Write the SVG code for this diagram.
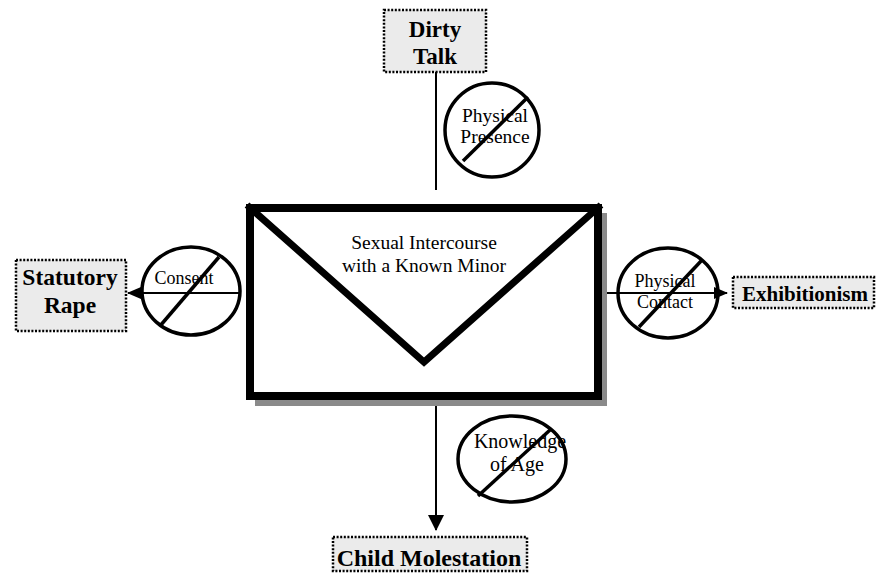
<svg xmlns="http://www.w3.org/2000/svg" width="876" height="573" viewBox="0 0 876 573">
<style>
  text { fill: #000; text-anchor: middle; }
  .b { font-weight: bold; }
  .box { fill: #ebebeb; stroke: #000; stroke-width: 2.5; stroke-dasharray: 2 1.6; }
  .nc { fill: none; stroke: #000; stroke-width: 3.5; }
  .slash { stroke: #000; stroke-width: 3.5; fill: none; }
  .conn { stroke: #000; stroke-width: 2; fill: none; }
</style>
<defs>
  <marker id="arr" viewBox="0 0 14 12" refX="13" refY="6" markerWidth="14" markerHeight="12" markerUnits="userSpaceOnUse" orient="auto">
    <path d="M0,0 L14,6 L0,12 Z" fill="#000"/>
  </marker>
  <marker id="arrL" viewBox="0 0 16 16" refX="15" refY="8" markerWidth="16" markerHeight="16" markerUnits="userSpaceOnUse" orient="auto">
    <path d="M0,0 L16,8 L0,16 Z" fill="#000"/>
  </marker>
</defs>

<g id="connectors">
  <line class="conn" x1="436" y1="72" x2="436" y2="190"/>
  <line class="conn" x1="240" y1="293" x2="128" y2="293" marker-end="url(#arr)"/>
  <line class="conn" x1="607" y1="293" x2="727" y2="293" marker-end="url(#arr)"/>
  <line class="conn" x1="436" y1="404" x2="436" y2="530" marker-end="url(#arrL)"/>
</g>

<g font-family="Liberation Serif, Tinos, DejaVu Serif, serif">
<g id="envelope">
  <rect x="255" y="213" width="352" height="193" fill="#8a8a8a"/>
  <rect x="250" y="208" width="348" height="188" fill="#fff" stroke="#000" stroke-width="8"/>
  <path d="M247,205 L424,362 L601,205" fill="none" stroke="#000" stroke-width="7"/>
  <text x="424" y="249" font-size="19.5">Sexual Intercourse</text>
  <text x="424" y="272" font-size="19.5">with a Known Minor</text>
</g>

<g id="dirty-talk">
  <rect class="box" x="384" y="10" width="102" height="62"/>
  <text class="b" x="435" y="37" font-size="23">Dirty</text>
  <text class="b" x="435" y="64" font-size="23">Talk</text>
</g>

<g id="statutory-rape">
  <rect class="box" x="16" y="260" width="110" height="71"/>
  <text class="b" x="70" y="285" font-size="23.5">Statutory</text>
  <text class="b" x="70" y="313" font-size="23.5">Rape</text>
</g>

<g id="exhibitionism">
  <rect class="box" x="733" y="277" width="141" height="31"/>
  <text class="b" x="805" y="301" font-size="21">Exhibitionism</text>
</g>

<g id="child-molestation">
  <rect class="box" x="333" y="537" width="194" height="34"/>
  <text class="b" x="429" y="566" font-size="24">Child Molestation</text>
</g>

<g id="no-physical-presence">
  <ellipse class="nc" cx="492" cy="130" rx="47" ry="47"/>
  <text x="495" y="122" font-size="19.5">Physical</text>
  <text x="495" y="143" font-size="19.5">Presence</text>
  <line class="slash" x1="463" y1="161" x2="528" y2="97"/>
</g>

<g id="no-consent">
  <ellipse class="nc" cx="191" cy="291" rx="49" ry="44"/>
  <text x="184" y="284" font-size="18">Consent</text>
  <line class="slash" x1="160" y1="326" x2="219" y2="257"/>
</g>

<g id="no-physical-contact">
  <ellipse class="nc" cx="668" cy="293" rx="50" ry="45"/>
  <text x="665" y="287" font-size="18">Physical</text>
  <text x="665" y="308" font-size="18">Contact</text>
  <line class="slash" x1="639" y1="327" x2="702" y2="260"/>
</g>

<g id="no-knowledge-of-age">
  <ellipse class="nc" cx="512" cy="459" rx="54" ry="43"/>
  <text x="520" y="448" font-size="20">Knowledge</text>
  <text x="517" y="471" font-size="20">of Age</text>
  <line class="slash" x1="478" y1="496" x2="550" y2="430"/>
</g>
</g>
</svg>
